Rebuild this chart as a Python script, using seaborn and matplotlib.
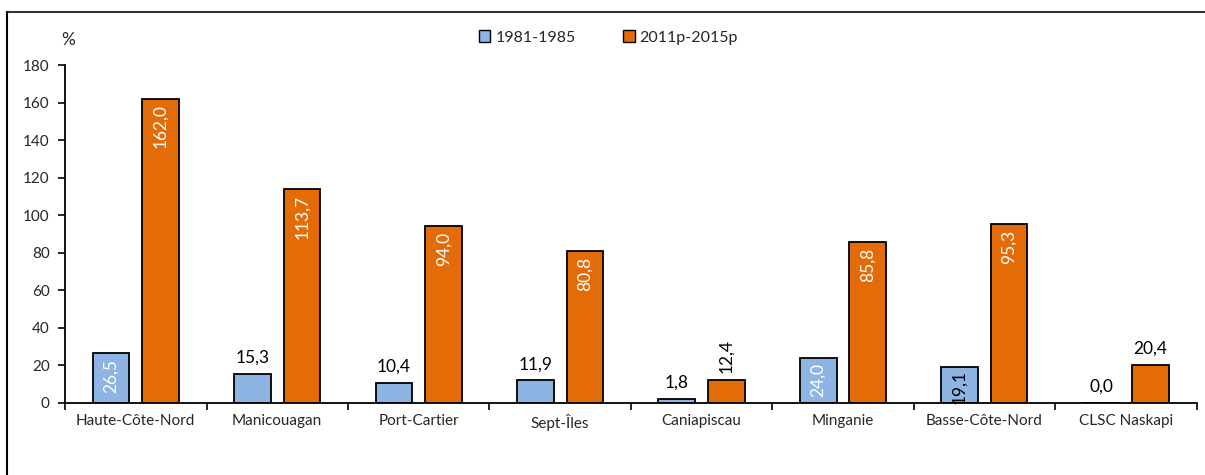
import matplotlib
matplotlib.use("Agg")

import matplotlib.pyplot as plt
import numpy as np
import pandas as pd
import seaborn as sns
from matplotlib.lines import Line2D

# Données
regions = ["Haute-Côte-Nord", "Manicouagan", "Port-Cartier", "Sept-Îles",
           "Caniapiscau", "Minganie", "Basse-Côte-Nord", "CLSC Naskapi"]
periodes = ["1981-1985", "2011p-2015p"]
val_1981 = [26.5, 15.3, 10.4, 11.9, 1.8, 24.0, 19.1, 0.0]
val_2011 = [162.0, 113.7, 94.0, 80.8, 12.4, 85.8, 95.3, 20.4]

# Style des étiquettes : "in" = dans la barre (blanc, vertical), "in_dark" = dans la barre (noir),
# "up" = au-dessus (horizontal), "up_rot" = au-dessus (vertical)
style_1981 = ["in", "up", "up", "up", "up", "in", "in_dark", "up"]
style_2011 = ["in", "in", "in", "in", "up_rot", "in", "in", "up"]

couleurs = {"1981-1985": "#8DB4E2", "2011p-2015p": "#E36C09"}

sns.set_theme(style="white")
plt.rcParams["font.family"] = ["Lato", "DejaVu Sans"]

df = pd.DataFrame({
    "region": regions * 2,
    "periode": [periodes[0]] * len(regions) + [periodes[1]] * len(regions),
    "valeur": val_1981 + val_2011,
})

fig = plt.figure(figsize=(12.05, 4.75), dpi=100)
ax = fig.add_axes([0.054, 0.152, 0.939, 0.711])

sns.barplot(data=df, x="region", y="valeur", hue="periode", order=regions,
            hue_order=periodes, palette=couleurs, saturation=1, edgecolor="black",
            linewidth=1.3, width=0.70, gap=0.26, ax=ax)

ax.set_ylim(0, 180)
ax.set_xlim(-0.5, len(regions) - 0.5)
ax.set_yticks(np.arange(0, 181, 20))
ax.set_xlabel("")
ax.set_ylabel("")
for s in ["top", "right"]:
    ax.spines[s].set_visible(False)
for s in ["left", "bottom"]:
    ax.spines[s].set_color("black")
    ax.spines[s].set_linewidth(1.3)

ax.tick_params(axis="y", direction="out", length=5, width=1.2, color="black",
               left=True, labelsize=11, pad=6)
ax.tick_params(axis="x", which="major", length=0, labelsize=11, pad=8)
ax.set_xticks(np.arange(-0.5, len(regions), 1.0), minor=True)
ax.tick_params(axis="x", which="minor", direction="out", length=5, width=1.2,
               color="black", bottom=True)

# Étiquettes de valeurs
def fmt(v):
    return f"{v:.1f}".replace(".", ",")

for cont, vals, styles in zip(ax.containers, [val_1981, val_2011], [style_1981, style_2011]):
    for bar, v, st in zip(cont, vals, styles):
        xc = bar.get_x() + bar.get_width() / 2
        h = bar.get_height()
        if st == "in":
            ax.annotate(fmt(v), (xc, h), xytext=(0, -4), textcoords="offset points",
                        rotation=90, ha="center", va="top", color="white", fontsize=12.5)
        elif st == "in_dark":
            ax.annotate(fmt(v), (xc, h), xytext=(0, -2), textcoords="offset points",
                        rotation=90, ha="center", va="top", color="black", fontsize=12.5)
        elif st == "up_rot":
            ax.annotate(fmt(v), (xc, h), xytext=(0, 5), textcoords="offset points",
                        rotation=90, ha="center", va="bottom", color="black", fontsize=12.5)
        else:
            ax.annotate(fmt(v), (xc, h), xytext=(0, 6), textcoords="offset points",
                        ha="center", va="bottom", color="black", fontsize=12.5)

# Légende
ax.legend_.remove()
fig.legend(loc="center", bbox_to_anchor=(0.505, 0.921), ncol=2, frameon=False,
           handles=[plt.Rectangle((0, 0), 1, 1, fc=couleurs[p], ec="black", lw=1.0) for p in periodes],
           labels=periodes, fontsize=11.5, handlelength=0.7, handleheight=0.7,
           handletextpad=0.3, columnspacing=3.0)

fig.text(0.057, 0.915, "%", fontsize=12.5, ha="center", va="center")

# Cadre extérieur
fig.add_artist(Line2D([0.006, 1.0], [0.975, 0.975], color="#333333", lw=1.5,
                      transform=fig.transFigure))
fig.add_artist(Line2D([0.006, 0.006], [0.0, 0.975], color="black", lw=1.5,
                      transform=fig.transFigure))

fig.savefig("out.png", dpi=100)
plt.close(fig)
